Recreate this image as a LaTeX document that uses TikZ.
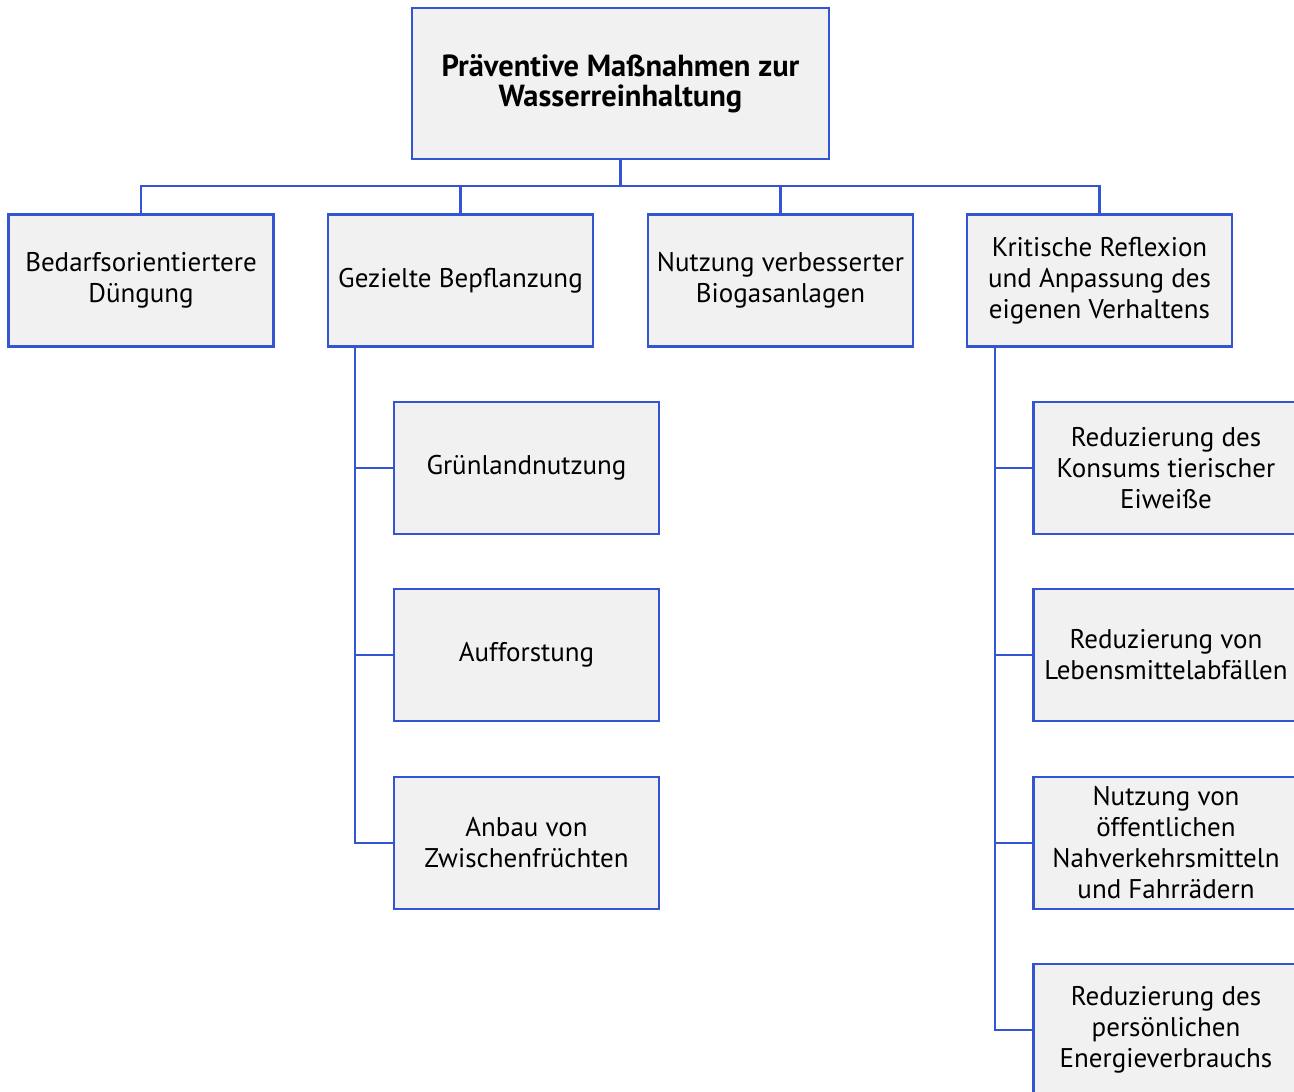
\documentclass[tikz,border=0pt]{standalone}
\usepackage{fontspec}
\setmainfont{PT Sans}
\begin{document}
\begin{tikzpicture}[x=1pt,y=-1pt,
  box/.style={draw=boxblue,fill=boxfill,line width=2.8pt,minimum width=265pt,minimum height=132pt,align=center,inner sep=0pt,font=\fontsize{27}{31}\selectfont},
  conn/.style={draw=boxblue,line width=2.8pt}]
\definecolor{boxblue}{RGB}{51,85,210}
\definecolor{boxfill}{RGB}{241,241,241}
\useasboundingbox (0,0) rectangle (1294,1092);
\node[box,minimum width=417pt,minimum height=151pt,font=\bfseries\fontsize{30.5}{30}\selectfont] (top) at (620.5,83.5) {Präventive Maßnahmen zur\\Wasserreinhaltung};
\node[box] (a) at (141,280.5) {Bedarfsorientiertere\\Düngung};
\node[box] (b) at (460.5,280.5) {Gezielte Bepflanzung};
\node[box] (c) at (780.5,280.5) {Nutzung verbesserter\\Biogasanlagen};
\node[box] (d) at (1099.5,280.5) {Kritische Reflexion\\und Anpassung des\\eigenen Verhaltens};
\node[box] (b1) at (526.5,468) {Grünlandnutzung};
\node[box] (b2) at (526.5,655) {Aufforstung};
\node[box] (b3) at (526.5,843) {Anbau von\\Zwischenfrüchten};
\node[box] (d1) at (1166,468) {Reduzierung des\\Konsums tierischer\\Eiweiße};
\node[box] (d2) at (1166,655) {Reduzierung von\\Lebensmittelabfällen};
\node[box] (d3) at (1166,843) {Nutzung von\\öffentlichen\\Nahverkehrsmitteln\\und Fahrrädern};
\node[box] (d4) at (1166,1030) {Reduzierung des\\persönlichen\\Energieverbrauchs};
\coordinate (bus) at (0,186);
\foreach \n in {a,b,c,d}{
  \draw[conn] (top.south) |- (bus -| \n.north) -- (\n.north);
}
\coordinate (bx) at (355,0);
\coordinate (dx) at (995,0);
\foreach \n in {b1,b2,b3}{
  \draw[conn] (b.south -| bx) |- (\n.west);
}
\foreach \n in {d1,d2,d3,d4}{
  \draw[conn] (d.south -| dx) |- (\n.west);
}
\end{tikzpicture}
\end{document}
